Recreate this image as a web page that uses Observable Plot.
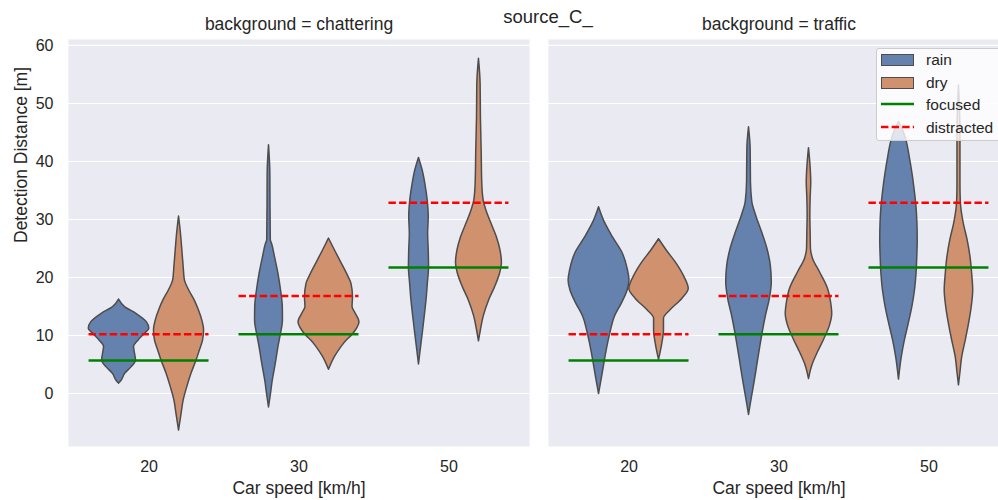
<!DOCTYPE html>
<html><head><meta charset="utf-8">
<script src="https://cdn.jsdelivr.net/npm/d3@7"></script>
<script src="https://cdn.jsdelivr.net/npm/@observablehq/plot@0.6"></script>
<style>
body{margin:0;overflow:hidden;background:#fff;font-family:"Liberation Sans",Arial,sans-serif;color:#262626;}
#wrap{position:relative;width:998px;height:500px;overflow:hidden;}
#chart svg{max-width:none !important;width:1010px !important;height:500px !important;}
#title{position:absolute;left:448px;width:200px;top:6px;text-align:center;font-size:18.5px;}
#legend{position:absolute;left:876px;top:48px;width:126px;height:93px;background:rgba(255,255,255,0.8);border:1px solid #cccccc;border-radius:3px;box-sizing:border-box;}
.row{position:absolute;left:4px;height:20px;font-size:15.5px;line-height:20px;}
.sw{position:absolute;left:0;top:4px;width:33px;height:12px;box-sizing:border-box;border:1.5px solid #4d4d4d;}
.lab{position:absolute;left:45px;top:0;white-space:nowrap;}
</style>
</head><body>
<div id="wrap">
<div id="chart"></div>
<div id="title">source_C_</div>
<div id="legend"></div>
</div>
<script>
// categories
const backgrounds = ["chattering", "traffic"];
const speeds = [20, 30, 50];
const conditions = ["rain", "dry"];
const yTicks = [0, 10, 20, 30, 40, 50, 60];
// reference lines per speed
const focused = [5.7, 10.2, 21.7];
const distracted = [10.2, 16.8, 32.9];

// violin profiles: [value, half-width in category units]
const chatteringRain20 = [[16.2,0],[14.9,0.04],[13.7,0.118],[12.3,0.185],[11.15,0.202],[10.3,0.173],[9.1,0.129],[8.0,0.1],[6.8,0.107],[5.7,0.113],[4.5,0.083],[3.4,0.041],[2.2,0.017],[1.7,0]];
const chatteringDry20 = [[30.5,0],[27.5,0.013],[24.7,0.022],[21.8,0.031],[19.5,0.039],[17.8,0.067],[16.0,0.105],[14.3,0.133],[12.6,0.155],[10.9,0.167],[9.1,0.16],[7.4,0.139],[5.7,0.117],[3.4,0.083],[1.1,0.055],[-1.2,0.031],[-3.5,0.017],[-6.4,0]];
const chatteringRain30 = [[42.8,0],[37.9,0.009],[32.1,0.01],[26.4,0.012],[25.8,0.02],[23.5,0.04],[20.6,0.063],[17.8,0.08],[14.9,0.092],[12.6,0.093],[10.3,0.08],[8.0,0.063],[5.1,0.045],[2.2,0.025],[-0.1,0.013],[-2.4,0]];
const chatteringDry30 = [[26.7,0],[24.7,0.039],[22.4,0.085],[20.1,0.13],[18.9,0.15],[16.6,0.16],[14.9,0.157],[14.0,0.173],[12.3,0.203],[10.9,0.18],[10.0,0.153],[9.1,0.117],[8.0,0.083],[6.3,0.04],[4.1,0]];
const chatteringRain50 = [[40.6,0],[38.4,0.025],[36.2,0.042],[33.3,0.058],[30.4,0.065],[27.5,0.061],[24.7,0.065],[21.8,0.067],[18.9,0.059],[16.0,0.05],[13.2,0.038],[10.3,0.025],[7.4,0.011],[5.0,0]];
const chatteringDry50 = [[57.7,0],[53.4,0.011],[47.6,0.013],[41.9,0.018],[36.2,0.022],[33.3,0.031],[31.6,0.049],[29.3,0.083],[26.9,0.12],[24.7,0.143],[22.6,0.153],[20.6,0.14],[18.3,0.107],[16.0,0.067],[13.2,0.031],[10.9,0.013],[9.0,0]];
const trafficRain20 = [[32.1,0],[29.8,0.033],[26.9,0.093],[24.1,0.159],[21.2,0.193],[19.5,0.203],[17.8,0.191],[15.5,0.152],[13.2,0.105],[10.9,0.08],[8.6,0.06],[5.7,0.039],[2.8,0.02],[-0.1,0]];
const trafficDry20 = [[26.6,0],[24.7,0.05],[22.4,0.117],[20.1,0.169],[18.0,0.198],[16.3,0.155],[14.3,0.075],[12.9,0.033],[10.9,0.033],[8.6,0.022],[7.1,0.011],[5.8,0]];
const trafficRain30 = [[45.9,0],[42.2,0.011],[36.4,0.013],[33.0,0.022],[30.7,0.047],[27.8,0.087],[24.9,0.123],[22.1,0.145],[19.2,0.152],[16.3,0.139],[13.4,0.113],[10.6,0.092],[7.7,0.073],[4.8,0.055],[1.9,0.037],[-0.9,0.018],[-3.7,0]];
const trafficDry30 = [[42.3,0],[39.3,0.01],[36.4,0.015],[33.6,0.011],[30.7,0.009],[27.8,0.011],[24.9,0.013],[23.2,0.027],[20.9,0.073],[18.0,0.127],[15.7,0.147],[13.7,0.155],[11.7,0.14],[9.4,0.103],[7.1,0.06],[4.8,0.022],[2.5,0]];
const trafficRain50 = [[46.8,0],[45.5,0.025],[43.6,0.05],[40.7,0.072],[37.9,0.09],[35.0,0.105],[32.1,0.117],[29.3,0.123],[26.4,0.125],[23.5,0.122],[20.6,0.117],[17.8,0.107],[14.9,0.089],[12.0,0.065],[9.1,0.039],[6.3,0.019],[2.4,0]];
const trafficDry50 = [[53.1,0],[45.0,0.01],[36.0,0.01],[33.3,0.012],[32.1,0.015],[29.3,0.032],[26.4,0.058],[23.5,0.077],[20.6,0.088],[17.8,0.095],[14.9,0.085],[12.0,0.067],[9.1,0.045],[6.3,0.022],[3.4,0.009],[1.4,0]];

const violins = [
  ["chattering", 0, "rain", chatteringRain20], ["chattering", 0, "dry", chatteringDry20],
  ["chattering", 1, "rain", chatteringRain30], ["chattering", 1, "dry", chatteringDry30],
  ["chattering", 2, "rain", chatteringRain50], ["chattering", 2, "dry", chatteringDry50],
  ["traffic", 0, "rain", trafficRain20], ["traffic", 0, "dry", trafficDry20],
  ["traffic", 1, "rain", trafficRain30], ["traffic", 1, "dry", trafficDry30],
  ["traffic", 2, "rain", trafficRain50], ["traffic", 2, "dry", trafficDry50]
];
const dodge = 0.2;
const rows = [];
violins.forEach(([bg, si, cond, prof], k) => {
  const pos = si + (cond === "rain" ? -dodge : dodge);
  prof.forEach(([v, hw]) => rows.push({id: k, background: bg, condition: cond, pos, value: v, hw}));
});
const speedIdx = speeds.map((s, i) => i);
const colors = ["#6581ae", "#d0916e"];

const chart = Plot.plot({
  width: 1010, height: 500,
  marginLeft: 67, marginRight: 0, marginTop: 39, marginBottom: 54,
  style: {fontFamily: "'Liberation Sans', Arial, sans-serif", color: "#262626", background: "transparent"},
  fx: {domain: backgrounds, paddingInner: 0.0395, paddingOuter: 0, label: null},
  x: {domain: [-0.537, 2.537]},
  y: {domain: [-9.14, 61.03]},
  color: {domain: conditions, range: colors},
  marks: [
    Plot.frame({fill: "#eaeaf2"}),
    Plot.gridY(yTicks, {stroke: "white", strokeOpacity: 1, strokeWidth: 1.2}),
    Plot.areaX(rows, {fx: "background", y: "value", x1: d => d.pos - d.hw, x2: d => d.pos + d.hw, z: "id",
      fill: "condition", stroke: "#4d4d4d", strokeWidth: 1.5, curve: "monotone-y"}),
    Plot.ruleY(speedIdx, {y: i => focused[i], x1: i => i - 0.4, x2: i => i + 0.4, stroke: "green", strokeWidth: 2.5}),
    Plot.ruleY(speedIdx, {y: i => distracted[i], x1: i => i - 0.4, x2: i => i + 0.4, stroke: "red", strokeWidth: 2.5, strokeDasharray: "7.4,3.2"}),
    Plot.axisY(yTicks, {tickSize: 0, tickPadding: 15, fontSize: 16, label: null}),
    Plot.text(["Detection Distance [m]"], {fx: () => backgrounds[0], frameAnchor: "left", rotate: -90, dx: -47, fontSize: 17.5, fill: "#262626"}),
    Plot.axisX(speedIdx, {tickSize: 0, tickPadding: 14, tickFormat: i => String(speeds[i]), fontSize: 16, label: null}),
    Plot.text(["Car speed [km/h]"], {frameAnchor: "bottom", dy: 47, fontSize: 17.5, fill: "#262626"}),
    Plot.axisFx({anchor: "top", tickSize: 0, tickPadding: 10, tickFormat: d => "background = " + d, fontSize: 17.5, label: null})
  ]
});
document.getElementById("chart").appendChild(chart);

// legend
const legend = document.getElementById("legend");
const legendItems = [
  {label: "rain", type: "patch", color: colors[0]},
  {label: "dry", type: "patch", color: colors[1]},
  {label: "focused", type: "line", color: "green", dash: false},
  {label: "distracted", type: "line", color: "red", dash: true}
];
legendItems.forEach((it, i) => {
  const r = document.createElement("div");
  r.className = "row";
  r.style.top = (1 + i * 22.7) + "px";
  let sym;
  if (it.type === "patch") {
    sym = `<div class="sw" style="background:${it.color}"></div>`;
  } else {
    sym = `<svg style="position:absolute;left:0;top:7px;overflow:visible" width="33" height="4"><line x1="0" x2="33" y1="2" y2="2" stroke="${it.color}" stroke-width="2.5" ${it.dash ? 'stroke-dasharray="7.4,3.2"' : ''}/></svg>`;
  }
  r.innerHTML = sym + `<span class="lab">${it.label}</span>`;
  legend.appendChild(r);
});
</script>
</body></html>
